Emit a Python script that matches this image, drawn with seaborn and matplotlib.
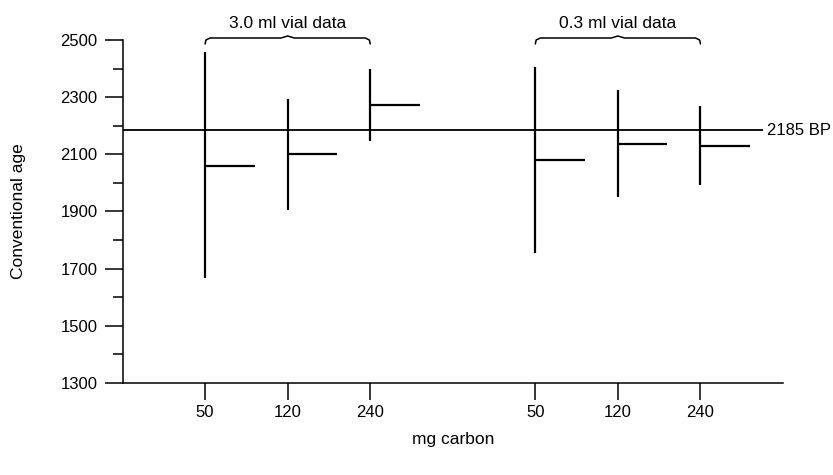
import numpy as np
import pandas as pd
import matplotlib
matplotlib.use("Agg")
import matplotlib.pyplot as plt
import seaborn as sns

# data
groups = ["3.0 ml vial data", "0.3 ml vial data"]
carbon_labels = ["50", "120", "240", "50", "120", "240"]
xpos = [1, 2, 3, 5, 6, 7]
age_low = [1667, 1905, 2148, 1754, 1950, 1993]
age_high = [2458, 2293, 2397, 2407, 2325, 2269]
age_mean = [2060, 2101, 2272, 2080, 2136, 2130]
true_age = 2185

df = pd.DataFrame({"x": xpos, "low": age_low, "high": age_high,
                   "mean": age_mean, "label": carbon_labels})

sns.set_theme(style="ticks", rc={"text.color": "black", "axes.labelcolor": "black",
                                 "xtick.color": "black", "ytick.color": "black"})
plt.rcParams['font.family'] = ['Liberation Sans', 'DejaVu Sans']

fig = plt.figure(figsize=(8.33, 4.75), dpi=100)
ax = fig.add_axes([0.1471, 0.1937, 0.7929, 0.7221])

lw = 1.6
ax.vlines(df["x"], df["low"], df["high"], color="black", lw=lw)
ax.hlines(df["mean"], df["x"], df["x"] + 0.6, color="black", lw=lw)
ax.hlines(true_age, 0, 7.76, color="black", lw=1.3)
ax.text(7.81, true_age, f"{true_age} BP", va="center", ha="left", fontsize=12)

ax.set_xlim(0, 8.0)
ax.set_ylim(1300, 2500)
ax.set_xticks(xpos)
ax.set_xticklabels(carbon_labels)
ax.set_yticks(np.arange(1300, 2501, 200))
ax.set_yticks(np.arange(1400, 2500, 200), minor=True)
ax.tick_params(axis="x", length=12, width=1.1, pad=4, labelsize=12)
ax.tick_params(axis="y", which="major", length=13, width=1.1, pad=5, labelsize=12)
ax.tick_params(axis="y", which="minor", length=7, width=1.1)
for s in ["left", "bottom"]:
    ax.spines[s].set_linewidth(1.1)
    ax.spines[s].set_color("black")
sns.despine(ax=ax)

ax.set_ylabel("Conventional age", fontsize=12.5, va="center")
ax.yaxis.set_label_coords(-0.157, 0.5)
ax.set_xlabel("mg carbon", fontsize=12.5, va="center")
ax.xaxis.set_label_coords(0.5, -0.166)

# brackets over each group
for name, (a, b) in zip(groups, [(1, 3), (5, 7)]):
    m = (a + b) / 2
    bx = [a, a + 0.01, a + 0.06, m - 0.08, m, m + 0.08, b - 0.06, b - 0.01, b]
    by = [2486, 2500, 2507, 2507, 2514, 2507, 2507, 2500, 2486]
    ax.plot(bx, by, color="black", lw=1.1, clip_on=False)
    ax.text(m, 2556, name, ha="center", va="center", fontsize=12.5)

fig.savefig("out.png", dpi=100)
